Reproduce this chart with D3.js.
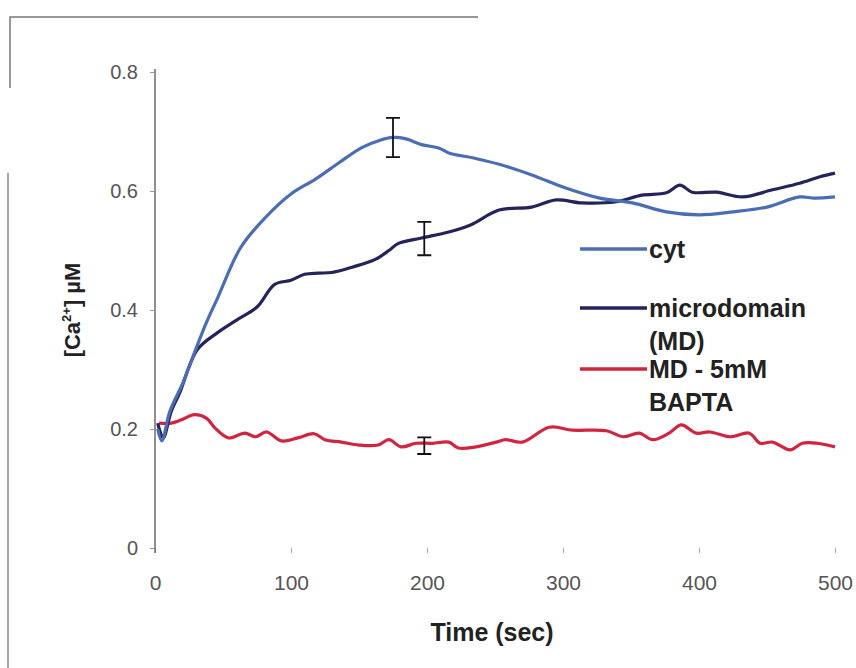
<!DOCTYPE html>
<html lang="en">
    <head>
        <meta charset="utf-8">
        <title> Ca microdomain time course </title>
        <script src="https://d3js.org/d3.v7.min.js"></script>
        <style type="text/css">
        body { margin: 0; background: #fff; }
        .tracestyle { fill: none; stroke-width: 3.2px; stroke-linejoin: round; }
        </style>
    </head>
    <body>
    <script type="text/javascript">

  var w = 856;
  var h = 668;

  var margin = {top: 72, right: 21, bottom: 120, left: 155};
  var innerWidth = w - margin.left - margin.right;
  var innerHeight = h - margin.top - margin.bottom;

  var fontFam = "'Liberation Sans', Arial, sans-serif";

  // tick values
  var xTicks = [0, 100, 200, 300, 400, 500];
  var yTicks = [0, 0.2, 0.4, 0.6, 0.8];

  // traces, [time (sec), conc (uM)]
  var cyt = [[2,0.20],[5,0.18],[11,0.23],[21,0.28],[31,0.34],[38,0.38],[46,0.42],[63,0.505],
             [81,0.555],[100,0.595],[118,0.62],[135,0.647],[152,0.673],[165,0.685],[175,0.69],
             [184,0.688],[196,0.678],[209,0.672],[216,0.664],[235,0.655],[253,0.645],[277,0.627],
             [302,0.605],[327,0.588],[351,0.58],[376,0.565],[400,0.56],[425,0.565],[450,0.573],
             [474,0.59],[485,0.588],[500,0.59]];

  var micro = [[2,0.21],[6,0.185],[12,0.23],[18,0.26],[31,0.333],[46,0.362],[60,0.383],[75,0.405],
               [88,0.443],[100,0.45],[110,0.46],[120,0.462],[130,0.463],[145,0.472],[162,0.485],
               [172,0.5],[179,0.512],[196,0.521],[216,0.531],[232,0.543],[253,0.568],[277,0.573],
               [295,0.585],[314,0.58],[339,0.582],[358,0.593],[376,0.597],[386,0.61],[395,0.598],
               [413,0.598],[432,0.59],[454,0.602],[474,0.613],[489,0.624],[500,0.63]];

  var bapta = [[3,0.21],[12,0.21],[19,0.215],[29,0.224],[38,0.218],[44,0.202],[54,0.185],[66,0.193],
               [74,0.187],[82,0.195],[93,0.18],[105,0.185],[117,0.192],[125,0.182],[137,0.178],
               [150,0.173],[164,0.173],[172,0.182],[181,0.17],[192,0.176],[204,0.176],[216,0.178],
               [223,0.168],[236,0.17],[251,0.178],[258,0.182],[270,0.178],[290,0.203],[307,0.198],
               [332,0.197],[344,0.187],[356,0.193],[366,0.182],[378,0.193],[387,0.207],[398,0.193],
               [408,0.195],[423,0.187],[437,0.193],[445,0.176],[454,0.178],[467,0.165],[476,0.176],
               [487,0.176],[500,0.17]];

  // error bars: [time, mean, sem]
  var errBars = [[175, 0.69, 0.033], [198, 0.52, 0.028], [198, 0.172, 0.014]];

  var seriesNames = ["cyt", "microdomain|(MD)", "MD - 5mM|BAPTA"];
  var seriesColors = ["#4b6db5", "#24245a", "#d0243f"];

  var svg = d3.select("body")
              .append("svg")
              .attr("width", w)
              .attr("height", h);

  // scanned frame pieces
  svg.append("path")
     .attr("d", "M10,88 L10,17 L478,17")
     .attr("fill", "none").attr("stroke", "#777").attr("stroke-width", 1.5);
  svg.append("line")
     .attr("x1", 8).attr("x2", 8).attr("y1", 173).attr("y2", 668)
     .attr("stroke", "#888").attr("stroke-width", 1.5);

  var g = svg.append("g")
             .attr("transform", `translate(${margin.left}, ${margin.top})`);

  var xScale = d3.scaleLinear().domain([0, 500]).range([0, innerWidth]);
  var yScale = d3.scaleLinear().domain([0, 0.8]).range([innerHeight, 0]);

  var xAxis = d3.axisBottom(xScale).tickValues(xTicks).tickSize(5).tickPadding(22);
  var yAxis = d3.axisLeft(yScale).tickValues(yTicks).tickSize(5).tickSizeOuter(0).tickPadding(12)
                .tickFormat(d => d === 0 ? "0" : d3.format(".1f")(d));

  var gx = g.append("g")
            .attr("transform", `translate(0, ${innerHeight})`)
            .call(xAxis)
            .attr("font-family", fontFam)
            .attr("font-size", 21);
  gx.select(".domain").remove();
  gx.selectAll(".tick line").attr("stroke", "#aaa");
  gx.selectAll(".tick text").attr("fill", "#555");

  var gy = g.append("g")
            .call(yAxis)
            .attr("font-family", fontFam)
            .attr("font-size", 20);
  gy.select(".domain").attr("stroke", "#555").attr("stroke-width", 1.3)
    .attr("d", `M0,-3 V${innerHeight + 5}`);
  gy.selectAll(".tick line").attr("stroke", "#999");
  gy.selectAll(".tick text").attr("fill", "#555");

  // lines
  var lineGen = d3.line()
                  .x(d => xScale(d[0]))
                  .y(d => yScale(d[1]))
                  .curve(d3.curveCatmullRom.alpha(0.5));

  [bapta, micro, cyt].forEach(function(s, i){
    g.append("path")
     .datum(s)
     .attr("class", "tracestyle")
     .attr("stroke", seriesColors[2 - i])
     .attr("d", lineGen);
  });

  // error bars
  var capW = 7;
  errBars.forEach(function(e){
    var x = xScale(e[0]);
    var y1 = yScale(e[1] + e[2]);
    var y2 = yScale(e[1] - e[2]);
    g.append("path")
     .attr("d", `M${x-capW},${y1} H${x+capW} M${x},${y1} V${y2} M${x-capW},${y2} H${x+capW}`)
     .attr("fill", "none").attr("stroke", "#111").attr("stroke-width", 1.8);
  });

  // legend
  var legY = [249, 308, 369];
  seriesNames.forEach(function(name, i){
    svg.append("line")
       .attr("x1", 580).attr("x2", 647)
       .attr("y1", legY[i]).attr("y2", legY[i])
       .attr("stroke", seriesColors[i]).attr("stroke-width", 3.5);
    var t = svg.append("text")
       .attr("font-family", fontFam)
       .attr("font-weight", "bold")
       .attr("fill", "#222")
       .attr("font-size", 25)
       .attr("x", 649).attr("y", legY[i] + 9);
    name.split("|").forEach(function(part, j){
      t.append("tspan").attr("x", 649).attr("dy", j === 0 ? 0 : 33).text(part);
    });
  });

  // axis titles
  svg.append("text")
     .attr("font-family", fontFam)
     .attr("font-weight", "bold")
     .attr("fill", "#222")
     .attr("font-size", 25)
     .attr("text-anchor", "middle")
     .attr("x", 492)
     .attr("y", 641)
     .text("Time (sec)");

  var yt = svg.append("text")
     .attr("font-family", fontFam)
     .attr("font-weight", "bold")
     .attr("fill", "#222")
     .attr("font-size", 22)
     .attr("text-anchor", "middle")
     .attr("transform", "translate(80, 310) rotate(-90)");
  yt.append("tspan").text("[Ca");
  yt.append("tspan").attr("font-size", 13).attr("dy", -9).text("2+");
  yt.append("tspan").attr("dy", 9).text("] \u00b5M");

    </script>
    </body>
</html>
